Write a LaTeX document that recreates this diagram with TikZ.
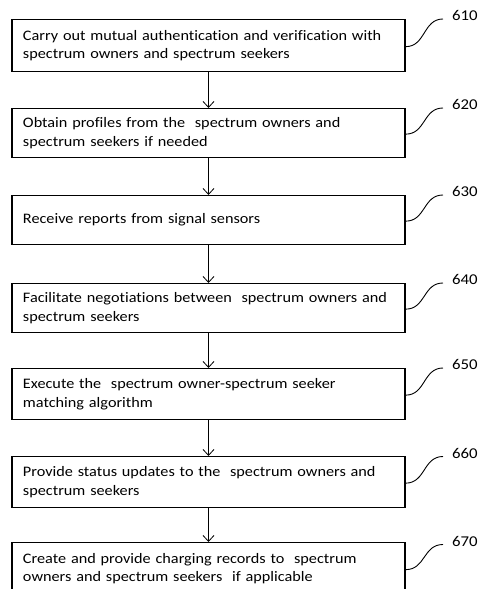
\documentclass[tikz,border=0pt]{standalone}
\usepackage{fontspec}
\setmainfont{Carlito}[FakeStretch=1.12,Ligatures=NoCommon]
\usetikzlibrary{arrows.meta,calc}
\begin{document}
\begin{tikzpicture}[x=1pt,y=-1pt,
  stepbox/.style={draw,line width=1.3pt,minimum width=393pt,minimum height=#1,
    text width=371pt,align=left,anchor=north,inner xsep=11pt,inner ysep=0pt,
    font=\fontsize{14.5}{18.5}\selectfont},
  flow/.style={-{Straight Barb[length=6pt,width=11pt,line width=0.8pt]},line width=0.8pt},
  tag/.style={anchor=west,inner sep=0pt,font=\fontsize{15}{18}\selectfont},
  lead/.style={line width=0.9pt}]
\useasboundingbox (0,0) rectangle (480,589);

% process steps
\node[stepbox=52pt] (s610) at (208.5,19)  {Carry out mutual authentication and verification with\\spectrum owners and spectrum seekers};
\node[stepbox=49pt] (s620) at (208.5,108) {Obtain profiles from the\ \ spectrum owners and\\spectrum seekers if needed};
\node[stepbox=49pt] (s630) at (208.5,195) {Receive reports from signal sensors};
\node[stepbox=49pt] (s640) at (208.5,283) {Facilitate negotiations between\ \ spectrum owners and\\spectrum seekers};
\node[stepbox=51pt] (s650) at (208.5,368) {Execute the\ \ spectrum owner-spectrum seeker\\matching algorithm};
\node[stepbox=51pt] (s660) at (208.5,456) {Provide status updates to the\ \ spectrum owners and\\spectrum seekers};
\node[stepbox=52pt] (s670) at (208.5,542) {Create and provide charging records to\ \ spectrum\\owners and spectrum seekers\ \ if applicable};

% reference numerals
\foreach \n/\y in {610/15.5,620/104.5,630/191.5,640/279.5,650/364.5,660/453,670/541}
  \node[tag] (n\n) at (452,\y) {\n};

% flow arrows
\foreach \a/\b in {610/620,620/630,630/640,640/650,650/660,660/670}
  \draw[flow] (s\a) -- (s\b);

% leader lines from the numerals to their boxes
\foreach \n in {610,620,630,640,650,660,670}
  \draw[lead] ($(s\n.east)+(0,1)$) .. controls +(20,0) and ($(n\n.west)+(-29,3.5)$) .. ($(n\n.west)+(-9,3.5)$);
\end{tikzpicture}
\end{document}
